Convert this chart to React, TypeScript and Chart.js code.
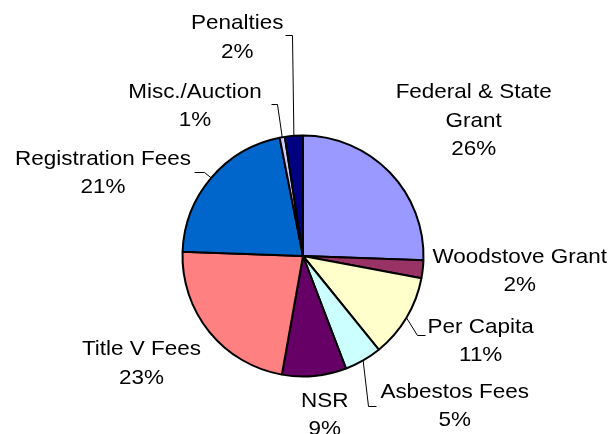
import React, { useEffect, useRef } from "react";
import { Chart, registerables } from "chart.js";

Chart.register(...registerables);

const categories = [
  "Federal & State Grant",
  "Woodstove Grant",
  "Per Capita",
  "Asbestos Fees",
  "NSR",
  "Title V Fees",
  "Registration Fees",
  "Misc./Auction",
  "Penalties",
];
const values = [25.5, 2.4, 11.2, 5.0, 8.6, 22.7, 21.3, 0.7, 2.4];
const colors = [
  "#9999FF",
  "#993366",
  "#FFFFCC",
  "#CCFFFF",
  "#660066",
  "#FF8080",
  "#0066CC",
  "#CCCCFF",
  "#000080",
];

// label block placement relative to pie centre (x centre, first-line centre y)
const labelOffsets: [number, number][] = [
  [170.7, -165.3],
  [216.7, -1],
  [177.7, 69],
  [151.7, 134],
  [21.7, 143],
  [-161.6, 91.7],
  [-200, -99],
  [-108, -166],
  [-65.8, -234.3],
];
// leader lines: [elbow, end] relative to pie centre, or null
const leaders: ([number, number][] | null)[] = [
  null,
  null,
  [[114, 79], [121.7, 79]],
  [[65, 150], [73.4, 150]],
  null,
  null,
  [[-99.3, -84], [-109.3, -84]],
  [[-26, -152], [-32.3, -152]],
  [[-11, -221], [-18.3, -221]],
];

const FONT_SIZE = 21;
const SCALE_X = 1.07;
const LINE_H = 28.5;
const WRAP = 200;

const labelPlugin = {
  id: "pieLabels",
  afterDraw(chart: any) {
    const ctx = chart.ctx as CanvasRenderingContext2D;
    const meta = chart.getDatasetMeta(0);
    const total = values.reduce((a, b) => a + b, 0);
    ctx.save();
    ctx.font = `${FONT_SIZE}px "Liberation Sans", Arial, sans-serif`;
    ctx.fillStyle = "#000";
    ctx.textAlign = "center";
    ctx.textBaseline = "alphabetic";
    meta.data.forEach((arc: any, i: number) => {
      const cx = arc.x;
      const cy = arc.y;
      const r = arc.outerRadius;
      const mid = (arc.startAngle + arc.endAngle) / 2;
      // leader
      const ld = leaders[i];
      if (ld) {
        const sx = cx + Math.cos(mid) * r;
        const sy = cy + Math.sin(mid) * r;
        ctx.beginPath();
        ctx.strokeStyle = "#000";
        ctx.lineWidth = 1;
        ctx.moveTo(sx, sy);
        ctx.lineTo(Math.round(cx + ld[0][0]) + 0.5, Math.round(cy + ld[0][1]) + 0.5);
        ctx.lineTo(Math.round(cx + ld[1][0]) + 0.5, Math.round(cy + ld[1][1]) + 0.5);
        ctx.stroke();
      }
      // wrap text
      const words = categories[i].split(" ");
      const lines: string[] = [];
      let cur = "";
      words.forEach((w) => {
        const t = cur ? cur + " " + w : w;
        if (cur && ctx.measureText(t).width * SCALE_X > WRAP) {
          lines.push(cur);
          cur = w;
        } else cur = t;
      });
      if (cur) lines.push(cur);
      lines.push(Math.round((values[i] / total) * 100) + "%");
      const lx = cx + labelOffsets[i][0];
      const ly = cy + labelOffsets[i][1];
      lines.forEach((ln, k) => {
        ctx.save();
        ctx.translate(lx, ly + k * LINE_H + FONT_SIZE * 0.358);
        ctx.scale(SCALE_X, 1);
        ctx.fillText(ln, 0, 0);
        ctx.restore();
      });
    });
    ctx.restore();
  },
};

export default function App() {
  const ref = useRef<HTMLCanvasElement>(null);
  useEffect(() => {
    document.body.style.margin = "0";
    const chart = new Chart(ref.current!, {
      type: "pie",
      data: {
        labels: categories,
        datasets: [
          {
            data: values,
            backgroundColor: colors,
            borderColor: "#000",
            borderWidth: 2,
          },
        ],
      },
      options: {
        responsive: false,
        animation: false,
        devicePixelRatio: 1,
        radius: 120.5,
        layout: { padding: { left: 0, right: 10, top: 78, bottom: 0 } },
        plugins: { legend: { display: false }, tooltip: { enabled: false } },
      } as any,
      plugins: [labelPlugin],
    });
    return () => chart.destroy();
  }, []);
  return (
    <div style={{ position: "absolute", left: 0, top: 0, width: 616, height: 434, background: "#fff" }}>
      <canvas ref={ref} width={616} height={434} style={{ display: "block" }} />
    </div>
  );
}
